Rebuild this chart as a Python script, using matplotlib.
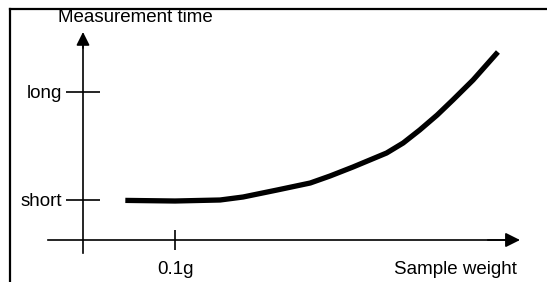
import matplotlib
matplotlib.use("Agg")
import matplotlib.pyplot as plt
from matplotlib.lines import Line2D
import numpy as np

plt.rcParams['font.family'] = ['Liberation Sans', 'DejaVu Sans']

# curve: sample weight (g) vs measurement time (arbitrary units)
weight = np.array([0.046, 0.100, 0.149, 0.174, 0.211, 0.247, 0.2685, 0.2935,
                   0.330, 0.348, 0.366, 0.385, 0.402, 0.424, 0.451])
time = np.array([0.99, 0.975, 1.0, 1.075, 1.25, 1.425, 1.6, 1.825,
                 2.175, 2.425, 2.75, 3.125, 3.5, 4.0, 4.7])

y_ticks = [1.0, 3.7]
y_labels = ['short', 'long']
x_ticks = [0.1]
x_labels = ['0.1g']

fig = plt.figure(figsize=(5.47, 2.82), dpi=100)
ax = fig.add_axes([0, 0, 1, 1])
ax.set_xlim(-83 / 920, 464 / 920)
ax.set_ylim(-1.05, 6.0)
ax.patch.set_alpha(0)

for side in ['top', 'right']:
    ax.spines[side].set_visible(False)
ax.spines['left'].set_position(('data', 0))
ax.spines['bottom'].set_position(('data', 0))
ax.spines['left'].set_bounds(-0.325, 5.0)
ax.spines['bottom'].set_bounds(-0.038, 0.46)
for side in ['left', 'bottom']:
    ax.spines[side].set_linewidth(1.2)

ax.set_yticks(y_ticks, y_labels)
ax.set_xticks(x_ticks, x_labels)
ax.tick_params(axis='y', direction='inout', length=24.5, width=1.2,
               pad=3, labelsize=13.5)
ax.tick_params(axis='x', direction='inout', length=14.4, width=1.2,
               pad=8, labelsize=13.5)

# arrow heads
ax.annotate('', xy=(0.475, 0), xytext=(0.44, 0),
            arrowprops=dict(arrowstyle='-|>', color='black', lw=1.2,
                            mutation_scale=22, shrinkA=0, shrinkB=0))
ax.annotate('', xy=(0, 5.2), xytext=(0, 4.8),
            arrowprops=dict(arrowstyle='-|>', color='black', lw=1.2,
                            mutation_scale=20, shrinkA=0, shrinkB=0))

ax.plot(weight, time, color='black', linewidth=3.8,
        solid_capstyle='butt', solid_joinstyle='round')

ax.text(-0.027, 5.55, 'Measurement time', fontsize=13.5, ha='left', va='center')
ax.text(0.4717, -0.75, 'Sample weight', fontsize=13.5, ha='right', va='center')

# frame (left and top edges only visible)
fig.add_artist(Line2D([9.5 / 547, 9.5 / 547], [0, 1 - 8.5 / 282],
                      color='black', linewidth=1.6))
fig.add_artist(Line2D([9.5 / 547, 1], [1 - 8.5 / 282, 1 - 8.5 / 282],
                      color='black', linewidth=1.6))

fig.savefig('out.png', dpi=100)
